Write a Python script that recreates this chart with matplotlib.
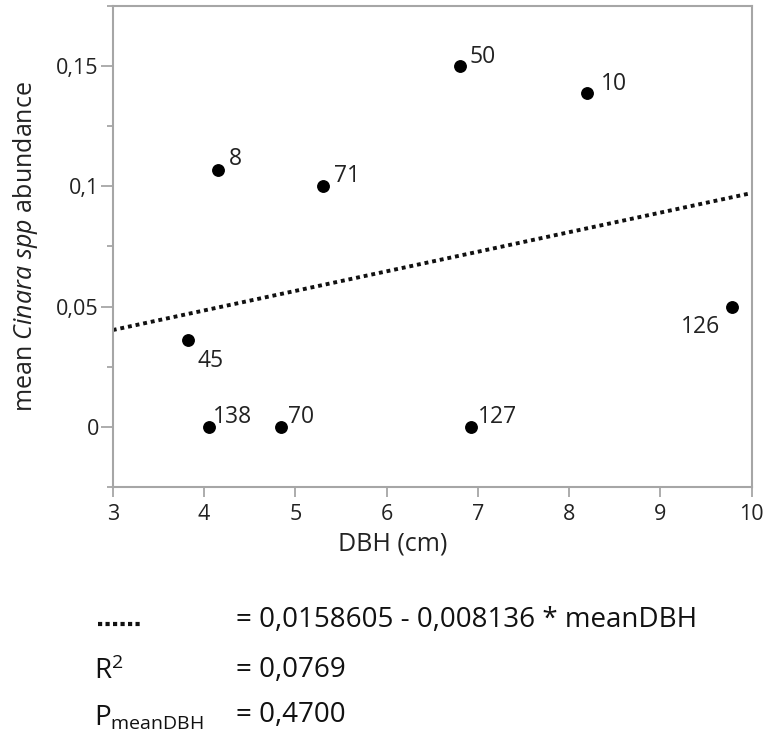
import numpy as np
import matplotlib.pyplot as plt
from matplotlib.lines import Line2D

plt.rcParams['font.family'] = ['Open Sans', 'DejaVu Sans']
plt.rcParams['mathtext.fontset'] = 'custom'
plt.rcParams['mathtext.rm'] = 'Open Sans'
plt.rcParams['mathtext.it'] = 'Open Sans:italic'

# data
dbh = [4.15, 5.30, 6.80, 8.20, 9.79, 3.82, 4.05, 4.84, 6.92]
abund = [0.107, 0.100, 0.150, 0.139, 0.050, 0.036, 0.0, 0.0, 0.0]
labels = ['8', '71', '50', '10', '126', '45', '138', '70', '127']
# label offsets (points): most above right, a couple placed differently
offs = [(8, 3), (8, 3), (7, 2), (10, 2), (-37, -19), (7, -19), (3, 3), (5, 3), (5, 3)]

intercept = 0.0158605
slope = 0.008136
r2 = 0.0769
p_val = 0.4700

grey = '#a6a6a6'
ink = '#222222'

fig = plt.figure(figsize=(7.67, 7.38), dpi=100)
ax = fig.add_axes([0.147, 0.340, 0.833, 0.652])

ax.scatter(dbh, abund, s=68, color='black', zorder=3)
for x, y, lab, o in zip(dbh, abund, labels, offs):
    ax.annotate(lab, (x, y), xytext=o, textcoords='offset points',
                fontsize=16.5, color=ink)

xs = np.array([3, 10])
ax.plot(xs, intercept + slope * xs, color='#111111', linestyle=(0, (1, 1)), lw=2.8)

ax.set_xlim(3, 10)
ax.set_ylim(-0.025, 0.175)
ax.set_xticks(np.arange(3, 11, 1))
ax.set_yticks([0, 0.05, 0.1, 0.15])
ax.set_yticklabels(['0', '0,05', '0,1', '0,15'])
ax.set_yticks([-0.025, 0.025, 0.075, 0.125, 0.175], minor=True)
ax.tick_params(axis='both', which='major', width=1.3, color=grey,
               labelsize=15.5, labelcolor=ink)
ax.tick_params(axis='x', which='major', length=7.5, pad=5)
ax.tick_params(axis='y', which='major', length=9, pad=1)
ax.tick_params(axis='y', which='minor', length=4.5, width=1.3, color=grey)
for sp in ax.spines.values():
    sp.set_color(grey)
    sp.set_linewidth(1.5)

ax.set_xlabel('DBH (cm)', fontsize=18, color=ink, va='top')
ax.xaxis.set_label_coords(0.438, -0.092)
ax.set_ylabel(r'mean $\it{Cinara\ spp}$ abundance', fontsize=18, color=ink, labelpad=12)

# equation block under the plot
fig.add_artist(Line2D([0.128, 0.185], [0.155, 0.155], color='#111111',
                      linestyle=(0, (1, 0.8)), lw=3, transform=fig.transFigure))
txt = dict(fontsize=20, color='#111111', va='center')
fig.text(0.308, 0.160, '= 0,0158605 - 0,008136 * meanDBH', **txt)
fig.text(0.122, 0.090, r'R$^2$', **txt)
fig.text(0.308, 0.092, '= ' + f'{r2:.4f}'.replace('.', ','), **txt)
fig.text(0.122, 0.027, r'P$_{\mathrm{meanDBH}}$', **txt)
fig.text(0.308, 0.031, '= ' + f'{p_val:.4f}'.replace('.', ','), **txt)

fig.savefig('out.png', dpi=100)
